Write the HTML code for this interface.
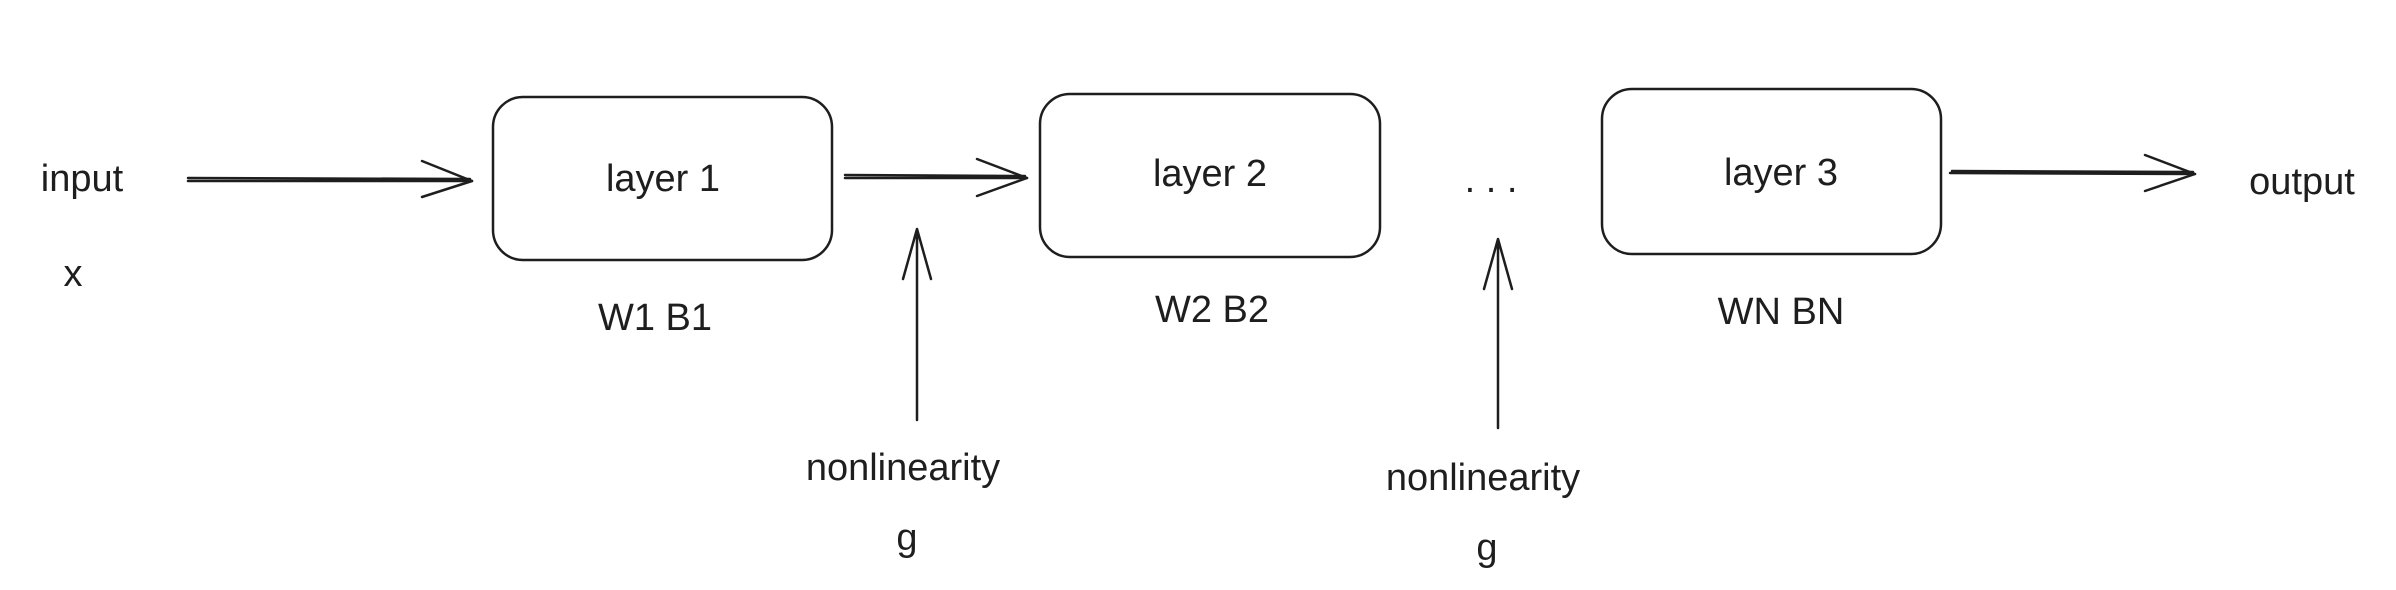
<!DOCTYPE html>
<html><head><meta charset="utf-8"><style>
html,body{margin:0;padding:0;background:#fff;}
svg{display:block;}
text{font-family:"Liberation Sans",sans-serif;font-size:38px;fill:#1e1e1e;text-anchor:middle;}
</style></head><body>
<svg width="2396" height="590" viewBox="0 0 2396 590" xmlns="http://www.w3.org/2000/svg">
<g fill="none" stroke="#1e1e1e" stroke-width="2.5" stroke-linecap="round" stroke-linejoin="round">
<rect x="493" y="97" width="339" height="163" rx="30"/>
<rect x="1040" y="94" width="340" height="163" rx="30"/>
<rect x="1602" y="89" width="339" height="165" rx="30"/>
<path d="M188 181 L472 181 M188 178 L470 179"/>
<path d="M422 161 L472 181 L422 197"/>
<path d="M845 178 L1027 178 M845 175 L1025 176"/>
<path d="M977 159 L1027 178 L977 196"/>
<path d="M1950 173 L2195 174 M1952 171 L2193 172"/>
<path d="M2145 155 L2195 174 L2145 191"/>
<path d="M917 420 L917 229 M903 279 L917 229 L931 279"/>
<path d="M1498 428 L1498 239 M1484 289 L1498 239 L1512 289"/>
</g>
<text x="82" y="191">input</text>
<text x="73" y="286">x</text>
<text x="663" y="191">layer 1</text>
<text x="655" y="330">W1 B1</text>
<text x="1210" y="186">layer 2</text>
<text x="1212" y="322">W2 B2</text>
<text x="1491" y="192">. . .</text>
<text x="1781" y="185">layer 3</text>
<text x="1781" y="324">WN BN</text>
<text x="2302" y="194">output</text>
<text x="903" y="480">nonlinearity</text>
<text x="907" y="550">g</text>
<text x="1483" y="490">nonlinearity</text>
<text x="1487" y="560">g</text>
</svg>
</body></html>
